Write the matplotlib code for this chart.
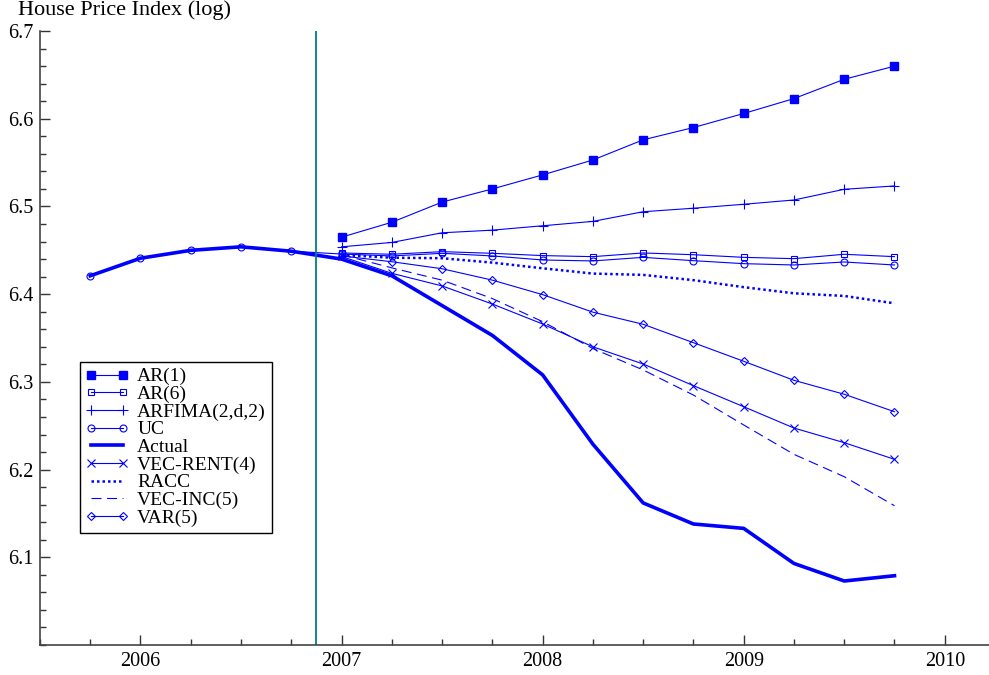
import numpy as np
import matplotlib.pyplot as plt
from matplotlib.ticker import MultipleLocator

plt.rcParams['font.family'] = ['Liberation Serif', 'DejaVu Serif']

# history (quarterly), actual up to the forecast origin
hist_x = [2005.75, 2006.0, 2006.25, 2006.5, 2006.75]
hist_y = [6.421, 6.441, 6.450, 6.454, 6.449]

# forecast period
fc_x = [2007.0, 2007.25, 2007.5, 2007.75, 2008.0, 2008.25,
        2008.5, 2008.75, 2009.0, 2009.25, 2009.5, 2009.75]

actual_fc = [6.440, 6.421, 6.387, 6.353, 6.308, 6.229,
             6.162, 6.138, 6.133, 6.093, 6.073, 6.079]
ar1 = [6.465, 6.482, 6.505, 6.520, 6.536, 6.553,
       6.576, 6.590, 6.606, 6.623, 6.645, 6.660]
ar6 = [6.447, 6.4455, 6.4485, 6.4466, 6.444, 6.4428,
       6.447, 6.445, 6.442, 6.4405, 6.4455, 6.4428]
arfima = [6.454, 6.459, 6.470, 6.473, 6.478, 6.483,
          6.494, 6.498, 6.5025, 6.5074, 6.5196, 6.5234]
uc = [6.4458, 6.4436, 6.4466, 6.4436, 6.439, 6.4379,
      6.442, 6.4382, 6.4348, 6.4333, 6.4367, 6.4333]
vec_rent = [6.443, 6.4238, 6.4094, 6.3888, 6.366, 6.340,
            6.3204, 6.2957, 6.2717, 6.2474, 6.2307, 6.2117]
racc = [6.4447, 6.4416, 6.441, 6.436, 6.4295, 6.4235,
        6.422, 6.416, 6.408, 6.401, 6.398, 6.3896]
vec_inc = [6.445, 6.430, 6.416, 6.395, 6.3687, 6.338,
           6.3136, 6.285, 6.2509, 6.2174, 6.1919, 6.1588]
var5 = [6.4436, 6.437, 6.429, 6.416, 6.3995, 6.3795,
        6.3657, 6.3447, 6.3235, 6.3018, 6.2859, 6.266]

blue = '#0000ff'

fig = plt.figure(figsize=(9.89, 6.75), dpi=100)
ax = fig.add_axes([0.0404, 0.0444, 0.9596, 0.9096])

actual_x = hist_x + fc_x
actual_y = hist_y + actual_fc

ax.plot(fc_x, ar1, color=blue, lw=0.8, marker='s', ms=5.5, mfc=blue, mec=blue, label='AR(1)')
ax.plot(fc_x, ar6, color=blue, lw=0.8, marker='s', ms=5, mfc='none', mec=blue, mew=0.8, label='AR(6)')
ax.plot(fc_x, arfima, color=blue, lw=0.8, marker='+', ms=7, mew=0.8, label='ARFIMA(2,d,2)')
ax.plot(hist_x + fc_x, hist_y + uc, color=blue, lw=0.8, marker='o', ms=5, mfc='none', mew=0.8, label='UC')
ax.plot(actual_x, actual_y, color=blue, lw=2.6, label='Actual')
ax.plot(fc_x, vec_rent, color=blue, lw=0.8, marker='x', ms=5.5, mew=0.8, label='VEC-RENT(4)')
ax.plot(fc_x, racc, color=blue, lw=1.8, ls=(0, (1, 1.2)), label='RACC')
ax.plot(fc_x, vec_inc, color=blue, lw=0.8, ls=(0, (9, 5)), label='VEC-INC(5)')
ax.plot(fc_x, var5, color=blue, lw=0.8, marker='D', ms=4, mfc='none', mew=0.8, label='VAR(5)')

ax.axvline(2006.875, color='#008080', lw=1.3)

ax.set_xlim(2005.5, 2010.22)
ax.set_ylim(6.0, 6.7)
ax.xaxis.set_major_locator(MultipleLocator(1))
ax.xaxis.set_minor_locator(MultipleLocator(0.25))
ax.yaxis.set_major_locator(MultipleLocator(0.1))
ax.yaxis.set_minor_locator(MultipleLocator(0.02))
ax.set_yticks([6.1, 6.2, 6.3, 6.4, 6.5, 6.6, 6.7])
ax.set_yticklabels(['6.1', '6.2', '6.3', '6.4', '6.5', '6.6', '6.7'])
ax.set_xticks([2006, 2007, 2008, 2009, 2010])
ax.set_xticklabels(['2006', '2007', '2008', '2009', '2010'])

for s in ['top', 'right']:
    ax.spines[s].set_visible(False)
for s in ['left', 'bottom']:
    ax.spines[s].set_color('#444444')
    ax.spines[s].set_linewidth(1.2)

ax.tick_params(which='major', direction='in', length=7, width=1, color='#333333',
               labelsize=14.5, pad=5)
ax.tick_params(which='minor', direction='in', length=4, width=1, color='#333333')

fig.text(0.018, 0.999, 'House Price Index (log)', fontsize=16, ha='left', va='top')

leg = ax.legend(loc='upper left', bbox_to_anchor=(0.042, 0.461), borderaxespad=0,
                fontsize=14, numpoints=2, handlelength=2.2, handletextpad=0.45,
                labelspacing=0.0, borderpad=0.3, fancybox=False, framealpha=1,
                edgecolor='black')
leg.get_frame().set_linewidth(1.0)

fig.savefig('out.png', dpi=100)
